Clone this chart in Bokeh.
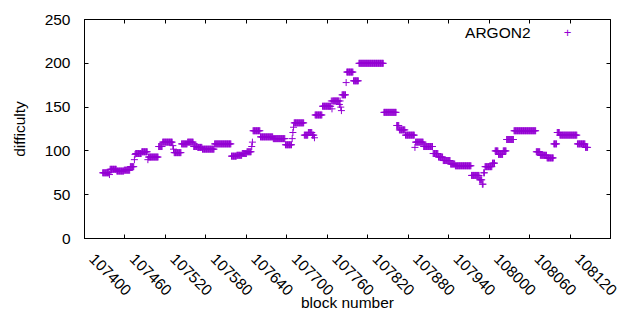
import math
from bokeh.plotting import figure
from bokeh.models import Range1d, FixedTicker, LinearAxis, Label, BasicTickFormatter
from bokeh.embed import file_html
from bokeh.resources import INLINE

# runs of constant difficulty: first block, last block, difficulty
run_start = [107427, 107437, 107438, 107448, 107459, 107468, 107474, 107475, 107476, 107485,
             107494, 107495, 107510, 107516, 107531, 107532, 107533, 107544, 107553, 107562,
             107568, 107575, 107593, 107618, 107626, 107634, 107641, 107648, 107649, 107650,
             107661, 107680, 107698, 107708, 107709, 107710, 107711, 107726, 107732, 107738,
             107741, 107742, 107753, 107766, 107767, 107768, 107778, 107779, 107780, 107781,
             107782, 107788, 107789, 107799, 107807, 107844, 107863, 107867, 107876, 107890,
             107891, 107903, 107917, 107925, 107932, 107943, 107950, 107974, 107986, 107990,
             107992, 107994, 108005, 108009, 108014, 108021, 108026, 108037, 108070, 108076,
             108086, 108096, 108101, 108105, 108131, 108143]
run_end = [107436, 107437, 107447, 107458, 107467, 107473, 107474, 107475, 107484, 107493,
           107494, 107509, 107515, 107530, 107531, 107532, 107543, 107552, 107561, 107567,
           107574, 107592, 107617, 107625, 107633, 107640, 107647, 107648, 107649, 107660,
           107679, 107697, 107707, 107708, 107709, 107710, 107725, 107731, 107737, 107740,
           107741, 107752, 107765, 107766, 107767, 107777, 107778, 107779, 107780, 107781,
           107787, 107788, 107798, 107806, 107843, 107862, 107866, 107875, 107889, 107890,
           107902, 107916, 107924, 107931, 107942, 107949, 107973, 107985, 107989, 107991,
           107993, 108004, 108008, 108013, 108020, 108025, 108036, 108069, 108075, 108085,
           108095, 108100, 108104, 108130, 108142, 108146]
run_value = [75, 73, 79, 77, 78, 82, 90, 96, 97, 99,
             90, 93, 105, 110, 106, 102, 98, 108, 110, 105,
             104, 102, 108, 94, 95, 97, 99, 105, 110, 123,
             116, 114, 107, 114, 121, 127, 132, 118, 121, 118,
             115, 141, 151, 157, 148, 157, 153, 157, 150, 146,
             164, 178, 190, 180, 200, 144, 129, 124, 118, 104,
             110, 105, 97, 93, 89, 85, 83, 72, 67, 62,
             75, 82, 86, 100, 96, 100, 113, 123, 99, 95,
             92, 108, 121, 118, 108, 104]

x_ticks = [107400, 107460, 107520, 107580, 107640, 107700, 107760,
           107820, 107880, 107940, 108000, 108060, 108120, 108180]
y_ticks = [0, 50, 100, 150, 200, 250]
series_name = "ARGON2"
x_title = "block number"
y_title = "difficulty"

blocks, diffs = [], []
for s, e, v in zip(run_start, run_end, run_value):
    for b in range(s, e + 1):
        blocks.append(b)
        diffs.append(v)

FONT = "Liberation Sans"
FS = "15.5px"
PURPLE = "#9400d3"
LABEL_SHIFT = 11  # blocks; nudges rotated tick labels right of their ticks

x0, x1 = x_ticks[0], x_ticks[-1]
p = figure(width=624, height=314, output_backend="svg", toolbar_location=None,
           x_range=Range1d(x0, x1), y_range=Range1d(y_ticks[0], y_ticks[-1]),
           min_border_left=84, min_border_right=14, min_border_top=19, min_border_bottom=76)
p.extra_x_ranges = {"xlab": Range1d(x0 - LABEL_SHIFT, x1 - LABEL_SHIFT)}
p.xgrid.visible = False
p.ygrid.visible = False
p.outline_line_color = "black"
p.outline_line_alpha = 1
p.outline_line_width = 1
p.background_fill_color = "white"
p.border_fill_color = "white"

p.scatter(blocks, diffs, marker="cross", size=7, line_color=PURPLE, line_width=1)

for ax in (p.xaxis[0], p.yaxis[0]):
    ax.major_tick_in = 4
    ax.major_tick_out = 0
    ax.minor_tick_line_color = None
    ax.major_label_text_font = FONT
    ax.major_label_text_font_size = FS
    ax.major_label_text_color = "black"
    ax.axis_label_text_font = FONT
    ax.axis_label_text_font_size = FS
    ax.axis_label_text_font_style = "normal"
    ax.axis_label_text_color = "black"
    ax.axis_line_color = "black"
    ax.major_tick_line_color = "black"

# bottom axis: line and ticks only
xa = p.xaxis[0]
xa.ticker = FixedTicker(ticks=x_ticks)
xa.major_label_text_font_size = "1px"
xa.major_label_text_color = None
xa.major_label_standoff = 0

# bottom tick labels, rotated, drawn just right of the ticks, plus the axis title
lab = LinearAxis(x_range_name="xlab", ticker=FixedTicker(ticks=x_ticks),
                 bounds=(x0, x1),
                 formatter=BasicTickFormatter(use_scientific=False),
                 major_label_orientation=-math.pi / 4, major_label_standoff=12,
                 major_label_text_font=FONT, major_label_text_font_size=FS,
                 major_label_text_color="black",
                 major_tick_line_color=None, minor_tick_line_color=None,
                 axis_line_color=None,
                 axis_label=x_title, axis_label_standoff=-9,
                 axis_label_text_font=FONT, axis_label_text_font_size=FS,
                 axis_label_text_font_style="normal", axis_label_text_color="black")
p.add_layout(lab, "below")

p.yaxis.ticker = FixedTicker(ticks=y_ticks)
p.yaxis.major_label_standoff = 14
p.yaxis.axis_label = y_title
p.yaxis.axis_label_standoff = 14

top = LinearAxis(ticker=FixedTicker(ticks=x_ticks), major_label_text_font_size="1px",
                 major_label_text_color=None, major_tick_in=4, major_tick_out=0,
                 minor_tick_line_color=None, axis_line_color=None, major_label_standoff=0)
right = LinearAxis(ticker=FixedTicker(ticks=y_ticks), major_label_text_font_size="1px",
                   major_label_text_color=None, major_tick_in=4, major_tick_out=0,
                   minor_tick_line_color=None, axis_line_color=None, major_label_standoff=0)
p.add_layout(top, "above")
p.add_layout(right, "right")

# key: title then sample, as in the original
p.add_layout(Label(x=446, y=206, x_units="screen", y_units="screen", text=series_name,
                   text_align="right", text_baseline="middle", text_font=FONT,
                   text_font_size=FS, text_color="black"))
p.add_layout(Label(x=483, y=206, x_units="screen", y_units="screen", text="+",
                   text_align="center", text_baseline="middle", text_font=FONT,
                   text_font_size="13px", text_color=PURPLE))

open("out.html", "w").write(file_html(p, INLINE))
